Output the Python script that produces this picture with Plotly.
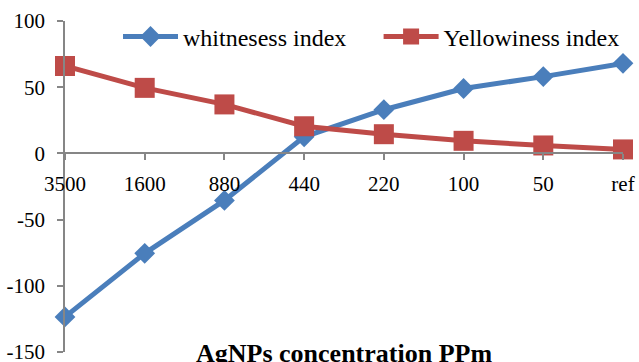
import plotly.graph_objects as go

# Concentration levels of silver nanoparticles (category axis)
concentrations = ["3500", "1600", "880", "440", "220", "100", "50", "ref"]

# Colour indices measured at each concentration
whiteness_index = [-123.5, -75.5, -35.5, 12.5, 33.0, 49.0, 58.0, 68.0]
yellowiness_index = [66.0, 49.5, 37.0, 20.5, 14.5, 9.5, 6.0, 3.0]

y_ticks = [-150, -100, -50, 0, 50, 100]
y_tick_labels = ["-150", "-100", "-50", "0", "50", "100"]

BLUE = "#4A7EBB"
RED = "#BE4B48"
AXIS = "#868686"
FONT = "Liberation Serif"

fig = go.Figure()

fig.add_trace(go.Scatter(
    x=concentrations, y=whiteness_index, name="whitnesess index",
    mode="lines+markers",
    line=dict(color=BLUE, width=5),
    marker=dict(symbol="diamond", size=16, color=BLUE),
    cliponaxis=False, legend="legend",
))
fig.add_trace(go.Scatter(
    x=concentrations, y=yellowiness_index, name="Yellowiness index",
    mode="lines+markers",
    line=dict(color=RED, width=5),
    marker=dict(symbol="square", size=20, color=RED),
    cliponaxis=False, legend="legend2",
))

# x axis crosses the y axis at zero: 150 of the 250 units from the bottom
zero_pos = (0 - y_ticks[0]) / (y_ticks[-1] - y_ticks[0])

legend_style = dict(
    orientation="h", xanchor="left", y=0.952, yanchor="middle",
    font=dict(family=FONT, size=24, color="black"),
    bgcolor="rgba(0,0,0,0)", itemwidth=55,
)

fig.update_layout(
    width=639, height=362,
    margin=dict(l=65, r=16, t=21, b=10, autoexpand=False),
    paper_bgcolor="white", plot_bgcolor="white",
    font=dict(family=FONT, size=21, color="black"),
    showlegend=True,
    legend=dict(x=0.095, **legend_style),
    legend2=dict(x=0.562, **legend_style),
    xaxis=dict(
        type="category", range=[0, len(concentrations) - 1],
        anchor="free", position=zero_pos, automargin=False,
        showline=True, linecolor=AXIS, linewidth=1.5,
        ticks="outside", ticklen=6, tickcolor=AXIS, tickwidth=1.5,
        showgrid=False, zeroline=False,
        ticklabelstandoff=6, ticklabeloverflow="allow",
        tickfont=dict(family=FONT, size=21, color="black"),
    ),
    yaxis=dict(
        range=[y_ticks[0], y_ticks[-1]],
        tickvals=y_ticks, ticktext=y_tick_labels, automargin=False,
        showline=True, linecolor=AXIS, linewidth=1.5,
        ticks="outside", ticklen=6, tickcolor=AXIS, tickwidth=1.5,
        showgrid=False, zeroline=False,
        ticklabelstandoff=8, ticklabeloverflow="allow",
        tickfont=dict(family=FONT, size=21, color="black"),
    ),
    annotations=[dict(
        text="<b>AgNPs concentration PPm</b>",
        xref="paper", yref="paper", x=0.5, y=0.045,
        xanchor="center", yanchor="top", showarrow=False,
        font=dict(family=FONT, size=26, color="black"),
    )],
)

fig.write_html("out.html")
